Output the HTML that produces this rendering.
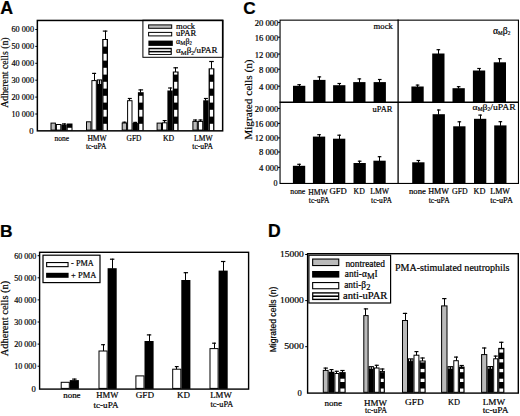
<!DOCTYPE html><html><head><meta charset="utf-8"><style>html,body{margin:0;padding:0;background:#fff;width:520px;height:416px;overflow:hidden}svg{display:block}text{fill:#000;stroke:#000;stroke-width:0.2px}text.lt{stroke-width:0.15px}</style></head><body>
<svg width="520" height="416" viewBox="0 0 520 416">
<rect x="0" y="0" width="520" height="416" fill="#fff"/>
<text x="0.3" y="14.4" font-size="17.8" font-family="'Liberation Sans', sans-serif" font-weight="bold">A</text>
<text x="243.2" y="13.9" font-size="17.2" font-family="'Liberation Sans', sans-serif" font-weight="bold">C</text>
<text x="-0.1" y="236.8" font-size="17.4" font-family="'Liberation Sans', sans-serif" font-weight="bold">B</text>
<text x="268" y="236.8" font-size="17.6" font-family="'Liberation Sans', sans-serif" font-weight="bold">D</text>
<text x="34" y="32.1" font-size="8.6" font-family="'Liberation Serif', serif" text-anchor="end" textLength="22.5" lengthAdjust="spacingAndGlyphs">60 000</text>
<line x1="35.3" y1="29.5" x2="37.5" y2="29.5" stroke="#000" stroke-width="1"/>
<text x="34" y="49" font-size="8.6" font-family="'Liberation Serif', serif" text-anchor="end" textLength="22.5" lengthAdjust="spacingAndGlyphs">50 000</text>
<line x1="35.3" y1="46.4" x2="37.5" y2="46.4" stroke="#000" stroke-width="1"/>
<text x="34" y="65.9" font-size="8.6" font-family="'Liberation Serif', serif" text-anchor="end" textLength="22.5" lengthAdjust="spacingAndGlyphs">40 000</text>
<line x1="35.3" y1="63.3" x2="37.5" y2="63.3" stroke="#000" stroke-width="1"/>
<text x="34" y="82.8" font-size="8.6" font-family="'Liberation Serif', serif" text-anchor="end" textLength="22.5" lengthAdjust="spacingAndGlyphs">30 000</text>
<line x1="35.3" y1="80.2" x2="37.5" y2="80.2" stroke="#000" stroke-width="1"/>
<text x="34" y="99.7" font-size="8.6" font-family="'Liberation Serif', serif" text-anchor="end" textLength="22.5" lengthAdjust="spacingAndGlyphs">20 000</text>
<line x1="35.3" y1="97.1" x2="37.5" y2="97.1" stroke="#000" stroke-width="1"/>
<text x="34" y="116.6" font-size="8.6" font-family="'Liberation Serif', serif" text-anchor="end" textLength="22.5" lengthAdjust="spacingAndGlyphs">10 000</text>
<line x1="35.3" y1="114" x2="37.5" y2="114" stroke="#000" stroke-width="1"/>
<text x="33.6" y="133.5" font-size="8.6" font-family="'Liberation Serif', serif" text-anchor="end">0</text>
<text transform="translate(7.9 72.6) rotate(-90)" x="0" y="0" font-size="10" font-family="'Liberation Serif', serif" text-anchor="middle" textLength="70.4" lengthAdjust="spacingAndGlyphs">Adherent cells (n)</text>
<rect x="142.9" y="20.2" width="80" height="37.1" fill="#fff" stroke="#000" stroke-width="1"/>
<rect x="51" y="123.1" width="4.4" height="7" fill="#bababa" stroke="#000" stroke-width="1"/>
<rect x="56.4" y="124.5" width="4.4" height="5.6" fill="#fff" stroke="#000" stroke-width="1"/>
<rect x="61.3" y="124.5" width="5.4" height="6.1" fill="#000"/>
<line x1="64.5" y1="123.4" x2="64.5" y2="125" stroke="#000" stroke-width="1"/>
<line x1="62" y1="123.9" x2="66" y2="123.9" stroke="#000" stroke-width="1.2"/>
<rect x="66.7" y="123.5" width="5.8" height="7.1" fill="#000"/>
<rect x="67.7" y="127.8" width="3.8" height="2.8" fill="#fff"/>
<rect x="86.5" y="121.8" width="4.4" height="8.3" fill="#bababa" stroke="#000" stroke-width="1"/>
<rect x="91.9" y="80.6" width="4.4" height="49.5" fill="#fff" stroke="#000" stroke-width="1"/>
<line x1="94.5" y1="72.9" x2="94.5" y2="80.6" stroke="#000" stroke-width="1"/>
<line x1="92.1" y1="73.4" x2="96.1" y2="73.4" stroke="#000" stroke-width="1.2"/>
<rect x="96.8" y="79.4" width="5.4" height="51.2" fill="#000"/>
<rect x="97.9" y="80.4" width="0.9" height="3.6" fill="#fff"/>
<rect x="100.2" y="80.4" width="0.9" height="3.6" fill="#fff"/>
<rect x="102.2" y="39" width="5.8" height="91.6" fill="#000"/>
<rect x="103.5" y="123.8" width="3.2" height="6.8" fill="#fff"/>
<rect x="103.5" y="109.8" width="3.2" height="6.8" fill="#fff"/>
<rect x="103.5" y="95.8" width="3.2" height="6.8" fill="#fff"/>
<rect x="103.5" y="81.8" width="3.2" height="6.8" fill="#fff"/>
<rect x="103.5" y="67.8" width="3.2" height="6.8" fill="#fff"/>
<rect x="103.5" y="53.8" width="3.2" height="6.8" fill="#fff"/>
<rect x="103.5" y="40" width="3.2" height="6.6" fill="#fff"/>
<line x1="105.5" y1="30.6" x2="105.5" y2="39.5" stroke="#000" stroke-width="1"/>
<line x1="102.8" y1="31.1" x2="107.4" y2="31.1" stroke="#000" stroke-width="1.2"/>
<rect x="122.2" y="123" width="4.4" height="7.1" fill="#bababa" stroke="#000" stroke-width="1"/>
<line x1="124.5" y1="121.7" x2="124.5" y2="123" stroke="#000" stroke-width="1"/>
<line x1="122.4" y1="122.2" x2="126.4" y2="122.2" stroke="#000" stroke-width="1.2"/>
<rect x="127.6" y="100.7" width="4.4" height="29.4" fill="#fff" stroke="#000" stroke-width="1"/>
<line x1="129.5" y1="98" x2="129.5" y2="100.7" stroke="#000" stroke-width="1"/>
<line x1="127.8" y1="98.5" x2="131.8" y2="98.5" stroke="#000" stroke-width="1.2"/>
<rect x="132.5" y="123" width="5.4" height="7.6" fill="#000"/>
<line x1="135.5" y1="121.9" x2="135.5" y2="123.5" stroke="#000" stroke-width="1"/>
<line x1="133.2" y1="122.4" x2="137.2" y2="122.4" stroke="#000" stroke-width="1.2"/>
<rect x="137.9" y="92.2" width="5.8" height="38.4" fill="#000"/>
<rect x="139.2" y="123.8" width="3.2" height="6.8" fill="#fff"/>
<rect x="139.2" y="109.8" width="3.2" height="6.8" fill="#fff"/>
<rect x="139.2" y="95.8" width="3.2" height="6.8" fill="#fff"/>
<line x1="140.5" y1="89.4" x2="140.5" y2="92.7" stroke="#000" stroke-width="1"/>
<line x1="138.5" y1="89.9" x2="143.1" y2="89.9" stroke="#000" stroke-width="1.2"/>
<rect x="157.1" y="123.1" width="4.4" height="7" fill="#bababa" stroke="#000" stroke-width="1"/>
<rect x="162.5" y="122.8" width="4.4" height="7.3" fill="#fff" stroke="#000" stroke-width="1"/>
<line x1="164.5" y1="120.1" x2="164.5" y2="122.8" stroke="#000" stroke-width="1"/>
<line x1="162.7" y1="120.6" x2="166.7" y2="120.6" stroke="#000" stroke-width="1.2"/>
<rect x="167.4" y="90.5" width="5.4" height="40.1" fill="#000"/>
<line x1="170.5" y1="87.5" x2="170.5" y2="91" stroke="#000" stroke-width="1"/>
<line x1="168.1" y1="88" x2="172.1" y2="88" stroke="#000" stroke-width="1.2"/>
<rect x="172.8" y="71.5" width="5.8" height="59.1" fill="#000"/>
<rect x="174.1" y="123.8" width="3.2" height="6.8" fill="#fff"/>
<rect x="174.1" y="109.8" width="3.2" height="6.8" fill="#fff"/>
<rect x="174.1" y="95.8" width="3.2" height="6.8" fill="#fff"/>
<rect x="174.1" y="81.8" width="3.2" height="6.8" fill="#fff"/>
<rect x="174.1" y="72.5" width="3.2" height="2.1" fill="#fff"/>
<line x1="175.5" y1="67.3" x2="175.5" y2="72" stroke="#000" stroke-width="1"/>
<line x1="173.4" y1="67.8" x2="178" y2="67.8" stroke="#000" stroke-width="1.2"/>
<rect x="192.9" y="121.4" width="4.4" height="8.7" fill="#bababa" stroke="#000" stroke-width="1"/>
<line x1="195.5" y1="119.5" x2="195.5" y2="121.4" stroke="#000" stroke-width="1"/>
<line x1="193.1" y1="120" x2="197.1" y2="120" stroke="#000" stroke-width="1.2"/>
<rect x="198.3" y="121.4" width="4.4" height="8.7" fill="#fff" stroke="#000" stroke-width="1"/>
<line x1="200.5" y1="119.5" x2="200.5" y2="121.4" stroke="#000" stroke-width="1"/>
<line x1="198.5" y1="120" x2="202.5" y2="120" stroke="#000" stroke-width="1.2"/>
<rect x="203.2" y="100.3" width="5.4" height="30.3" fill="#000"/>
<line x1="205.5" y1="98" x2="205.5" y2="100.8" stroke="#000" stroke-width="1"/>
<line x1="203.9" y1="98.5" x2="207.9" y2="98.5" stroke="#000" stroke-width="1.2"/>
<rect x="208.6" y="68.3" width="5.8" height="62.3" fill="#000"/>
<rect x="209.9" y="123.8" width="3.2" height="6.8" fill="#fff"/>
<rect x="209.9" y="109.8" width="3.2" height="6.8" fill="#fff"/>
<rect x="209.9" y="95.8" width="3.2" height="6.8" fill="#fff"/>
<rect x="209.9" y="81.8" width="3.2" height="6.8" fill="#fff"/>
<rect x="209.9" y="69.3" width="3.2" height="5.3" fill="#fff"/>
<line x1="211.5" y1="61" x2="211.5" y2="68.8" stroke="#000" stroke-width="1"/>
<line x1="209.2" y1="61.5" x2="213.8" y2="61.5" stroke="#000" stroke-width="1.2"/>
<rect x="37.35" y="20.45" width="185.3" height="110.4" fill="none" stroke="#000" stroke-width="1.5"/>
<rect x="148.6" y="24.9" width="23.1" height="3.4" fill="#bababa" stroke="#000" stroke-width="1"/>
<rect x="148.6" y="32.4" width="23.1" height="3.5" fill="#fff" stroke="#000" stroke-width="1"/>
<rect x="148.4" y="40.6" width="24.4" height="5.3" fill="#000"/>
<rect x="148.4" y="47.8" width="23.4" height="7.1" fill="#000"/>
<rect x="149.5" y="49.3" width="21.2" height="1.6" fill="#fff"/>
<rect x="149.5" y="52.4" width="21.2" height="1.6" fill="#fff"/>
<text x="176" y="28.7" font-size="8.6" font-family="'Liberation Serif', serif" textLength="19" lengthAdjust="spacingAndGlyphs">mock</text>
<text x="176" y="35.9" font-size="8.6" font-family="'Liberation Serif', serif" textLength="20.2" lengthAdjust="spacingAndGlyphs">uPAR</text>
<text x="176.1" y="44.0" font-size="9.0" font-family="'Liberation Serif', serif" textLength="15.7" lengthAdjust="spacingAndGlyphs">&#945;<tspan font-size="6.6" dy="1.3">M</tspan><tspan dy="-1.3">&#946;</tspan><tspan font-size="5.4" dy="1.3">2</tspan></text>
<text x="176.1" y="53.4" font-size="9.0" font-family="'Liberation Serif', serif" textLength="41.5" lengthAdjust="spacingAndGlyphs">&#945;<tspan font-size="6.6" dy="1.3">M</tspan><tspan dy="-1.3">&#946;</tspan><tspan font-size="5.4" dy="1.3">2</tspan><tspan dy="-1.3">/uPAR</tspan></text>
<text x="61.9" y="140.6" font-size="7.8" font-family="'Liberation Serif', serif" text-anchor="middle" textLength="14.6" lengthAdjust="spacingAndGlyphs">none</text>
<text x="97.1" y="140.6" font-size="7.8" font-family="'Liberation Serif', serif" text-anchor="middle" textLength="19.4" lengthAdjust="spacingAndGlyphs">HMW</text>
<text x="96.2" y="148.5" font-size="7.8" font-family="'Liberation Serif', serif" text-anchor="middle" textLength="20.6" lengthAdjust="spacingAndGlyphs">tc-uPA</text>
<text x="134" y="140.6" font-size="7.8" font-family="'Liberation Serif', serif" text-anchor="middle" textLength="14.8" lengthAdjust="spacingAndGlyphs">GFD</text>
<text x="168.5" y="140.6" font-size="7.8" font-family="'Liberation Serif', serif" text-anchor="middle" textLength="11.2" lengthAdjust="spacingAndGlyphs">KD</text>
<text x="203.3" y="140.6" font-size="7.8" font-family="'Liberation Serif', serif" text-anchor="middle" textLength="18.5" lengthAdjust="spacingAndGlyphs">LMW</text>
<text x="202.7" y="148.5" font-size="7.8" font-family="'Liberation Serif', serif" text-anchor="middle" textLength="20.8" lengthAdjust="spacingAndGlyphs">tc-uPA</text>
<text x="278.4" y="25.85" font-size="8" font-family="'Liberation Serif', serif" text-anchor="end" textLength="23.6" lengthAdjust="spacingAndGlyphs">20 000</text>
<line x1="278" y1="22.4" x2="280" y2="22.4" stroke="#000" stroke-width="1"/>
<text x="278.4" y="40.65" font-size="8" font-family="'Liberation Serif', serif" text-anchor="end" textLength="23.6" lengthAdjust="spacingAndGlyphs">16 000</text>
<line x1="278" y1="37.2" x2="280" y2="37.2" stroke="#000" stroke-width="1"/>
<text x="278.4" y="57.5" font-size="8" font-family="'Liberation Serif', serif" text-anchor="end" textLength="23.6" lengthAdjust="spacingAndGlyphs">12 000</text>
<line x1="278" y1="54.05" x2="280" y2="54.05" stroke="#000" stroke-width="1"/>
<text x="278.4" y="72.65" font-size="8" font-family="'Liberation Serif', serif" text-anchor="end" textLength="19.4" lengthAdjust="spacingAndGlyphs">8 000</text>
<line x1="278" y1="69.2" x2="280" y2="69.2" stroke="#000" stroke-width="1"/>
<text x="278.4" y="89.65" font-size="8" font-family="'Liberation Serif', serif" text-anchor="end" textLength="19.4" lengthAdjust="spacingAndGlyphs">4 000</text>
<line x1="278" y1="86.2" x2="280" y2="86.2" stroke="#000" stroke-width="1"/>
<text x="278.4" y="111.85" font-size="8" font-family="'Liberation Serif', serif" text-anchor="end" textLength="23.6" lengthAdjust="spacingAndGlyphs">20 000</text>
<line x1="278" y1="108.4" x2="280" y2="108.4" stroke="#000" stroke-width="1"/>
<text x="278.4" y="126.85" font-size="8" font-family="'Liberation Serif', serif" text-anchor="end" textLength="23.6" lengthAdjust="spacingAndGlyphs">16 000</text>
<line x1="278" y1="123.4" x2="280" y2="123.4" stroke="#000" stroke-width="1"/>
<text x="278.4" y="141.35" font-size="8" font-family="'Liberation Serif', serif" text-anchor="end" textLength="23.6" lengthAdjust="spacingAndGlyphs">12 000</text>
<line x1="278" y1="137.9" x2="280" y2="137.9" stroke="#000" stroke-width="1"/>
<text x="278.4" y="155.45" font-size="8" font-family="'Liberation Serif', serif" text-anchor="end" textLength="19.4" lengthAdjust="spacingAndGlyphs">8 000</text>
<line x1="278" y1="152" x2="280" y2="152" stroke="#000" stroke-width="1"/>
<text x="278.4" y="170.85" font-size="8" font-family="'Liberation Serif', serif" text-anchor="end" textLength="19.4" lengthAdjust="spacingAndGlyphs">4 000</text>
<line x1="278" y1="167.4" x2="280" y2="167.4" stroke="#000" stroke-width="1"/>
<text x="277.6" y="186.05" font-size="8" font-family="'Liberation Serif', serif" text-anchor="end">0</text>
<text transform="translate(251.6 99.6) rotate(-90)" x="0" y="0" font-size="11" font-family="'Liberation Serif', serif" text-anchor="middle" textLength="80.4" lengthAdjust="spacingAndGlyphs">Migrated cells (n)</text>
<rect x="293" y="85.8" width="12.3" height="16.5" fill="#000"/>
<line x1="299.5" y1="84.2" x2="299.5" y2="86.3" stroke="#000" stroke-width="1"/>
<line x1="297.35" y1="84.7" x2="300.95" y2="84.7" stroke="#000" stroke-width="1.2"/>
<rect x="313.2" y="79.9" width="12.3" height="22.4" fill="#000"/>
<line x1="319.5" y1="76.4" x2="319.5" y2="80.4" stroke="#000" stroke-width="1"/>
<line x1="317.55" y1="76.9" x2="321.15" y2="76.9" stroke="#000" stroke-width="1.2"/>
<rect x="333.1" y="85.2" width="12.3" height="17.1" fill="#000"/>
<line x1="339.5" y1="83" x2="339.5" y2="85.7" stroke="#000" stroke-width="1"/>
<line x1="337.45" y1="83.5" x2="341.05" y2="83.5" stroke="#000" stroke-width="1.2"/>
<rect x="353.2" y="82.1" width="12.3" height="20.2" fill="#000"/>
<line x1="359.5" y1="78.4" x2="359.5" y2="82.6" stroke="#000" stroke-width="1"/>
<line x1="357.55" y1="78.9" x2="361.15" y2="78.9" stroke="#000" stroke-width="1.2"/>
<rect x="373.6" y="82.1" width="12.3" height="20.2" fill="#000"/>
<line x1="379.5" y1="79" x2="379.5" y2="82.6" stroke="#000" stroke-width="1"/>
<line x1="377.95" y1="79.5" x2="381.55" y2="79.5" stroke="#000" stroke-width="1.2"/>
<rect x="411.4" y="86.5" width="12.3" height="15.8" fill="#000"/>
<line x1="417.5" y1="84.6" x2="417.5" y2="87" stroke="#000" stroke-width="1"/>
<line x1="415.75" y1="85.1" x2="419.35" y2="85.1" stroke="#000" stroke-width="1.2"/>
<rect x="432.2" y="53.5" width="12.3" height="48.8" fill="#000"/>
<line x1="438.5" y1="49.2" x2="438.5" y2="54" stroke="#000" stroke-width="1"/>
<line x1="436.55" y1="49.7" x2="440.15" y2="49.7" stroke="#000" stroke-width="1.2"/>
<rect x="452.5" y="88.2" width="12.3" height="14.1" fill="#000"/>
<line x1="458.5" y1="86.2" x2="458.5" y2="88.7" stroke="#000" stroke-width="1"/>
<line x1="456.85" y1="86.7" x2="460.45" y2="86.7" stroke="#000" stroke-width="1.2"/>
<rect x="472.9" y="70.5" width="12.3" height="31.8" fill="#000"/>
<line x1="479.5" y1="68" x2="479.5" y2="71" stroke="#000" stroke-width="1"/>
<line x1="477.25" y1="68.5" x2="480.85" y2="68.5" stroke="#000" stroke-width="1.2"/>
<rect x="493.7" y="62.3" width="12.3" height="40" fill="#000"/>
<line x1="499.5" y1="58.2" x2="499.5" y2="62.8" stroke="#000" stroke-width="1"/>
<line x1="498.05" y1="58.7" x2="501.65" y2="58.7" stroke="#000" stroke-width="1.2"/>
<rect x="292.9" y="165.8" width="12.3" height="17.4" fill="#000"/>
<line x1="299.5" y1="163.8" x2="299.5" y2="166.3" stroke="#000" stroke-width="1"/>
<line x1="297.25" y1="164.3" x2="300.85" y2="164.3" stroke="#000" stroke-width="1.2"/>
<rect x="312.9" y="136.6" width="12.3" height="46.6" fill="#000"/>
<line x1="319.5" y1="134.2" x2="319.5" y2="137.1" stroke="#000" stroke-width="1"/>
<line x1="317.25" y1="134.7" x2="320.85" y2="134.7" stroke="#000" stroke-width="1.2"/>
<rect x="333" y="138.7" width="12.3" height="44.5" fill="#000"/>
<line x1="339.5" y1="134.7" x2="339.5" y2="139.2" stroke="#000" stroke-width="1"/>
<line x1="337.35" y1="135.2" x2="340.95" y2="135.2" stroke="#000" stroke-width="1.2"/>
<rect x="353.5" y="163" width="12.3" height="20.2" fill="#000"/>
<line x1="359.5" y1="160.7" x2="359.5" y2="163.5" stroke="#000" stroke-width="1"/>
<line x1="357.85" y1="161.2" x2="361.45" y2="161.2" stroke="#000" stroke-width="1.2"/>
<rect x="373.4" y="160.7" width="12.3" height="22.5" fill="#000"/>
<line x1="379.5" y1="156.2" x2="379.5" y2="161.2" stroke="#000" stroke-width="1"/>
<line x1="377.75" y1="156.7" x2="381.35" y2="156.7" stroke="#000" stroke-width="1.2"/>
<rect x="412.2" y="162.3" width="12.3" height="20.9" fill="#000"/>
<line x1="418.5" y1="160" x2="418.5" y2="162.8" stroke="#000" stroke-width="1"/>
<line x1="416.55" y1="160.5" x2="420.15" y2="160.5" stroke="#000" stroke-width="1.2"/>
<rect x="432.6" y="114.2" width="12.3" height="69" fill="#000"/>
<line x1="438.5" y1="109.5" x2="438.5" y2="114.7" stroke="#000" stroke-width="1"/>
<line x1="436.95" y1="110" x2="440.55" y2="110" stroke="#000" stroke-width="1.2"/>
<rect x="453.2" y="126.3" width="12.3" height="56.9" fill="#000"/>
<line x1="459.5" y1="121.3" x2="459.5" y2="126.8" stroke="#000" stroke-width="1"/>
<line x1="457.55" y1="121.8" x2="461.15" y2="121.8" stroke="#000" stroke-width="1.2"/>
<rect x="474" y="118.8" width="12.3" height="64.4" fill="#000"/>
<line x1="480.5" y1="114.6" x2="480.5" y2="119.3" stroke="#000" stroke-width="1"/>
<line x1="478.35" y1="115.1" x2="481.95" y2="115.1" stroke="#000" stroke-width="1.2"/>
<rect x="494.2" y="125.4" width="12.3" height="57.8" fill="#000"/>
<line x1="500.5" y1="121.2" x2="500.5" y2="125.9" stroke="#000" stroke-width="1"/>
<line x1="498.55" y1="121.7" x2="502.15" y2="121.7" stroke="#000" stroke-width="1.2"/>
<rect x="280.05" y="20.15" width="238.4" height="163.3" fill="none" stroke="#000" stroke-width="1.1"/>
<line x1="398.1" y1="19.6" x2="398.1" y2="184" stroke="#000" stroke-width="1.3"/>
<line x1="279.5" y1="102.3" x2="519" y2="102.3" stroke="#000" stroke-width="1.4"/>
<text x="392.8" y="28.9" font-size="8.8" font-family="'Liberation Serif', serif" text-anchor="end" textLength="19.2" lengthAdjust="spacingAndGlyphs">mock</text>
<text x="493" y="33.6" font-size="9.6" font-family="'Liberation Serif', serif" textLength="17.3" lengthAdjust="spacingAndGlyphs">&#945;<tspan font-size="5.2" dy="1.2">M</tspan><tspan dy="-1.2">&#946;</tspan><tspan font-size="5.2" dy="1.2">2</tspan></text>
<text x="392.4" y="111.9" font-size="8.4" font-family="'Liberation Serif', serif" text-anchor="end" textLength="19.9" lengthAdjust="spacingAndGlyphs">uPAR</text>
<text x="472.6" y="109.6" font-size="9.2" font-family="'Liberation Serif', serif" textLength="43.1" lengthAdjust="spacingAndGlyphs">&#945;<tspan font-size="5.2" dy="1.2">M</tspan><tspan dy="-1.2">&#946;</tspan><tspan font-size="5.2" dy="1.2">2</tspan><tspan dy="-1.2">/uPAR</tspan></text>
<text x="297.8" y="193.6" font-size="8" font-family="'Liberation Serif', serif" text-anchor="middle" textLength="15" lengthAdjust="spacingAndGlyphs">none</text>
<text x="318" y="194.5" font-size="8" font-family="'Liberation Serif', serif" text-anchor="middle" textLength="19.6" lengthAdjust="spacingAndGlyphs">HMW</text>
<text x="338.2" y="194.4" font-size="8" font-family="'Liberation Serif', serif" text-anchor="middle" textLength="17.3" lengthAdjust="spacingAndGlyphs">GFD</text>
<text x="359.2" y="194.4" font-size="8" font-family="'Liberation Serif', serif" text-anchor="middle" textLength="11.2" lengthAdjust="spacingAndGlyphs">KD</text>
<text x="379.6" y="194.4" font-size="8" font-family="'Liberation Serif', serif" text-anchor="middle" textLength="18.8" lengthAdjust="spacingAndGlyphs">LMW</text>
<text x="319.2" y="203.2" font-size="8" font-family="'Liberation Serif', serif" text-anchor="middle" textLength="20.8" lengthAdjust="spacingAndGlyphs">tc-uPA</text>
<text x="381.5" y="203.2" font-size="8" font-family="'Liberation Serif', serif" text-anchor="middle" textLength="20.8" lengthAdjust="spacingAndGlyphs">tc-uPA</text>
<text x="417.4" y="194" font-size="8" font-family="'Liberation Serif', serif" text-anchor="middle" textLength="16.8" lengthAdjust="spacingAndGlyphs">none</text>
<text x="438.6" y="194" font-size="8" font-family="'Liberation Serif', serif" text-anchor="middle" textLength="20.8" lengthAdjust="spacingAndGlyphs">HMW</text>
<text x="459.8" y="194" font-size="8" font-family="'Liberation Serif', serif" text-anchor="middle" textLength="15.6" lengthAdjust="spacingAndGlyphs">GFD</text>
<text x="479.5" y="194" font-size="8" font-family="'Liberation Serif', serif" text-anchor="middle" textLength="11.9" lengthAdjust="spacingAndGlyphs">KD</text>
<text x="500.1" y="194" font-size="8" font-family="'Liberation Serif', serif" text-anchor="middle" textLength="19.7" lengthAdjust="spacingAndGlyphs">LMW</text>
<text x="439.2" y="203" font-size="8" font-family="'Liberation Serif', serif" text-anchor="middle" textLength="21" lengthAdjust="spacingAndGlyphs">tc-uPA</text>
<text x="501.6" y="203" font-size="8" font-family="'Liberation Serif', serif" text-anchor="middle" textLength="22.7" lengthAdjust="spacingAndGlyphs">tc-uPA</text>
<text x="36.4" y="258.9" font-size="8.6" font-family="'Liberation Serif', serif" text-anchor="end" textLength="22.2" lengthAdjust="spacingAndGlyphs">60 000</text>
<line x1="37.6" y1="255.7" x2="39.8" y2="255.7" stroke="#000" stroke-width="1"/>
<text x="36.4" y="281" font-size="8.6" font-family="'Liberation Serif', serif" text-anchor="end" textLength="22.2" lengthAdjust="spacingAndGlyphs">50 000</text>
<line x1="37.6" y1="277.8" x2="39.8" y2="277.8" stroke="#000" stroke-width="1"/>
<text x="36.4" y="303.1" font-size="8.6" font-family="'Liberation Serif', serif" text-anchor="end" textLength="22.2" lengthAdjust="spacingAndGlyphs">40 000</text>
<line x1="37.6" y1="299.9" x2="39.8" y2="299.9" stroke="#000" stroke-width="1"/>
<text x="36.4" y="325.2" font-size="8.6" font-family="'Liberation Serif', serif" text-anchor="end" textLength="22.2" lengthAdjust="spacingAndGlyphs">30 000</text>
<line x1="37.6" y1="322" x2="39.8" y2="322" stroke="#000" stroke-width="1"/>
<text x="36.4" y="347.3" font-size="8.6" font-family="'Liberation Serif', serif" text-anchor="end" textLength="22.2" lengthAdjust="spacingAndGlyphs">20 000</text>
<line x1="37.6" y1="344.1" x2="39.8" y2="344.1" stroke="#000" stroke-width="1"/>
<text x="36.4" y="369.4" font-size="8.6" font-family="'Liberation Serif', serif" text-anchor="end" textLength="22.2" lengthAdjust="spacingAndGlyphs">10 000</text>
<line x1="37.6" y1="366.2" x2="39.8" y2="366.2" stroke="#000" stroke-width="1"/>
<text x="35.8" y="391.7" font-size="8.6" font-family="'Liberation Serif', serif" text-anchor="end">0</text>
<text transform="translate(7.9 318.5) rotate(-90)" x="0" y="0" font-size="10.6" font-family="'Liberation Serif', serif" text-anchor="middle" textLength="75.6" lengthAdjust="spacingAndGlyphs">Adherent cells (n)</text>
<rect x="61.2" y="382.3" width="8.1" height="6.1" fill="#fff" stroke="#000" stroke-width="1"/>
<rect x="69.8" y="380.1" width="9.1" height="8.8" fill="#000"/>
<line x1="74.5" y1="378.6" x2="74.5" y2="380.6" stroke="#000" stroke-width="1"/>
<line x1="72.15" y1="379.1" x2="76.55" y2="379.1" stroke="#000" stroke-width="1.2"/>
<rect x="99" y="351" width="8.1" height="37.4" fill="#fff" stroke="#000" stroke-width="1"/>
<line x1="103.5" y1="344.2" x2="103.5" y2="351" stroke="#000" stroke-width="1"/>
<line x1="101.15" y1="344.7" x2="104.95" y2="344.7" stroke="#000" stroke-width="1.2"/>
<rect x="107.6" y="268.2" width="9.1" height="120.7" fill="#000"/>
<line x1="112.5" y1="258.7" x2="112.5" y2="268.7" stroke="#000" stroke-width="1"/>
<line x1="109.95" y1="259.2" x2="114.35" y2="259.2" stroke="#000" stroke-width="1.2"/>
<rect x="135.9" y="375.9" width="8.1" height="12.5" fill="#fff" stroke="#000" stroke-width="1"/>
<rect x="144.5" y="341" width="9.1" height="47.9" fill="#000"/>
<line x1="149.5" y1="334.4" x2="149.5" y2="341.5" stroke="#000" stroke-width="1"/>
<line x1="146.85" y1="334.9" x2="151.25" y2="334.9" stroke="#000" stroke-width="1.2"/>
<rect x="172.7" y="369.2" width="8.1" height="19.2" fill="#fff" stroke="#000" stroke-width="1"/>
<line x1="176.5" y1="366.1" x2="176.5" y2="369.2" stroke="#000" stroke-width="1"/>
<line x1="174.85" y1="366.6" x2="178.65" y2="366.6" stroke="#000" stroke-width="1.2"/>
<rect x="181.3" y="280" width="9.1" height="108.9" fill="#000"/>
<line x1="185.5" y1="272.2" x2="185.5" y2="280.5" stroke="#000" stroke-width="1"/>
<line x1="183.65" y1="272.7" x2="188.05" y2="272.7" stroke="#000" stroke-width="1.2"/>
<rect x="210" y="348.6" width="8.1" height="39.8" fill="#fff" stroke="#000" stroke-width="1"/>
<line x1="214.5" y1="342.7" x2="214.5" y2="348.6" stroke="#000" stroke-width="1"/>
<line x1="212.15" y1="343.2" x2="215.95" y2="343.2" stroke="#000" stroke-width="1.2"/>
<rect x="218.6" y="270.6" width="9.1" height="118.3" fill="#000"/>
<line x1="223.5" y1="261" x2="223.5" y2="271.1" stroke="#000" stroke-width="1"/>
<line x1="220.95" y1="261.5" x2="225.35" y2="261.5" stroke="#000" stroke-width="1.2"/>
<rect x="39.6" y="252.3" width="209" height="136.8" fill="none" stroke="#000" stroke-width="1.4"/>
<rect x="43" y="255.2" width="57" height="27.4" fill="#fff" stroke="#000" stroke-width="1.2"/>
<rect x="46.65" y="262.55" width="21.4" height="4.1" fill="#fff" stroke="#000" stroke-width="1.1"/>
<rect x="46.1" y="272.8" width="22.5" height="5" fill="#000"/>
<text x="71.1" y="266.1" font-size="8.6" font-family="'Liberation Serif', serif" textLength="22.7" lengthAdjust="spacingAndGlyphs">- PMA</text>
<text x="71.1" y="277.6" font-size="8.6" font-family="'Liberation Serif', serif" textLength="25.2" lengthAdjust="spacingAndGlyphs">+ PMA</text>
<text x="71.9" y="397.9" font-size="8.8" font-family="'Liberation Serif', serif" text-anchor="middle" textLength="17.3" lengthAdjust="spacingAndGlyphs">none</text>
<text x="107.4" y="397.9" font-size="8.8" font-family="'Liberation Serif', serif" text-anchor="middle" textLength="22.1" lengthAdjust="spacingAndGlyphs">HMW</text>
<text x="106" y="407.5" font-size="8.8" font-family="'Liberation Serif', serif" text-anchor="middle" textLength="25" lengthAdjust="spacingAndGlyphs">tc-uPA</text>
<text x="144.9" y="398" font-size="8.8" font-family="'Liberation Serif', serif" text-anchor="middle" textLength="18.3" lengthAdjust="spacingAndGlyphs">GFD</text>
<text x="183.5" y="398.3" font-size="8.8" font-family="'Liberation Serif', serif" text-anchor="middle" textLength="13" lengthAdjust="spacingAndGlyphs">KD</text>
<text x="221" y="398" font-size="8.8" font-family="'Liberation Serif', serif" text-anchor="middle" textLength="21.6" lengthAdjust="spacingAndGlyphs">LMW</text>
<text x="221.9" y="407.3" font-size="8.8" font-family="'Liberation Serif', serif" text-anchor="middle" textLength="22.7" lengthAdjust="spacingAndGlyphs">tc-uPA</text>
<text x="303.8" y="257.1" font-size="8.8" font-family="'Liberation Serif', serif" text-anchor="end" textLength="23.8" lengthAdjust="spacingAndGlyphs">15000</text>
<line x1="305.2" y1="254.5" x2="307.4" y2="254.5" stroke="#000" stroke-width="1"/>
<text x="303.8" y="303.2" font-size="8.8" font-family="'Liberation Serif', serif" text-anchor="end" textLength="23.8" lengthAdjust="spacingAndGlyphs">10000</text>
<line x1="305.2" y1="300.6" x2="307.4" y2="300.6" stroke="#000" stroke-width="1"/>
<text x="303.8" y="349.3" font-size="8.8" font-family="'Liberation Serif', serif" text-anchor="end" textLength="19.6" lengthAdjust="spacingAndGlyphs">5000</text>
<line x1="305.2" y1="346.7" x2="307.4" y2="346.7" stroke="#000" stroke-width="1"/>
<text x="301.9" y="396" font-size="8.6" font-family="'Liberation Serif', serif" text-anchor="end">0</text>
<text transform="translate(276.4 319.5) rotate(-90)" x="0" y="0" font-size="8.6" font-family="'Liberation Sans', sans-serif" text-anchor="middle" textLength="65.6" lengthAdjust="spacingAndGlyphs">Migrated cells (n)</text>
<rect x="323.3" y="370.4" width="4.8" height="21.9" fill="#bababa" stroke="#000" stroke-width="1"/>
<line x1="325.5" y1="367.6" x2="325.5" y2="370.4" stroke="#000" stroke-width="1"/>
<line x1="323.55" y1="368.1" x2="327.85" y2="368.1" stroke="#000" stroke-width="1.2"/>
<rect x="328.6" y="371.7" width="5.8" height="21.1" fill="#000"/>
<line x1="331.5" y1="369.1" x2="331.5" y2="372.2" stroke="#000" stroke-width="1"/>
<line x1="329.5" y1="369.6" x2="333.5" y2="369.6" stroke="#000" stroke-width="1.2"/>
<rect x="334.9" y="373.5" width="3.8" height="18.8" fill="#fff" stroke="#000" stroke-width="1"/>
<line x1="336.5" y1="370.8" x2="336.5" y2="373.5" stroke="#000" stroke-width="1"/>
<line x1="334.8" y1="371.3" x2="338.8" y2="371.3" stroke="#000" stroke-width="1.2"/>
<rect x="339.2" y="372.1" width="6.5" height="20.7" fill="#000"/>
<rect x="340.4" y="388.5" width="4.1" height="3.3" fill="#fff"/>
<rect x="340.4" y="378.7" width="4.1" height="3.3" fill="#fff"/>
<line x1="342.5" y1="370" x2="342.5" y2="372.6" stroke="#000" stroke-width="1"/>
<line x1="340.3" y1="370.5" x2="344.6" y2="370.5" stroke="#000" stroke-width="1.2"/>
<rect x="363.8" y="315.6" width="4.3" height="76.7" fill="#bababa" stroke="#000" stroke-width="1"/>
<line x1="365.5" y1="308.4" x2="365.5" y2="315.6" stroke="#000" stroke-width="1"/>
<line x1="363.8" y1="308.9" x2="368.1" y2="308.9" stroke="#000" stroke-width="1.2"/>
<rect x="368.6" y="366.1" width="5.3" height="26.7" fill="#000"/>
<rect x="369.7" y="367.1" width="0.9" height="1.8" fill="#fff"/>
<rect x="371.9" y="367.1" width="0.9" height="1.8" fill="#fff"/>
<rect x="374.4" y="368" width="4.7" height="24.3" fill="#fff" stroke="#000" stroke-width="1"/>
<line x1="376.5" y1="364.8" x2="376.5" y2="368" stroke="#000" stroke-width="1"/>
<line x1="374.75" y1="365.3" x2="378.75" y2="365.3" stroke="#000" stroke-width="1.2"/>
<rect x="379.6" y="370.9" width="5.3" height="21.9" fill="#000"/>
<rect x="380.8" y="388.5" width="2.9" height="3.3" fill="#fff"/>
<rect x="380.8" y="378.7" width="2.9" height="3.3" fill="#fff"/>
<rect x="380.8" y="371.9" width="2.9" height="0.3" fill="#fff"/>
<line x1="382.5" y1="368.5" x2="382.5" y2="371.4" stroke="#000" stroke-width="1"/>
<line x1="380.1" y1="369" x2="384.4" y2="369" stroke="#000" stroke-width="1.2"/>
<rect x="402.5" y="320.5" width="5" height="71.8" fill="#bababa" stroke="#000" stroke-width="1"/>
<line x1="405.5" y1="312.9" x2="405.5" y2="320.5" stroke="#000" stroke-width="1"/>
<line x1="402.85" y1="313.4" x2="407.15" y2="313.4" stroke="#000" stroke-width="1.2"/>
<rect x="408" y="358.3" width="5.5" height="34.5" fill="#000"/>
<rect x="409.1" y="359.3" width="0.9" height="1.8" fill="#fff"/>
<rect x="411.5" y="359.3" width="0.9" height="1.8" fill="#fff"/>
<rect x="414" y="355.2" width="4.9" height="37.1" fill="#fff" stroke="#000" stroke-width="1"/>
<line x1="416.5" y1="351.1" x2="416.5" y2="355.2" stroke="#000" stroke-width="1"/>
<line x1="414.45" y1="351.6" x2="418.45" y2="351.6" stroke="#000" stroke-width="1.2"/>
<rect x="419.4" y="360.5" width="6.3" height="32.3" fill="#000"/>
<rect x="420.6" y="388.5" width="3.9" height="3.3" fill="#fff"/>
<rect x="420.6" y="378.7" width="3.9" height="3.3" fill="#fff"/>
<rect x="420.6" y="368.9" width="3.9" height="3.3" fill="#fff"/>
<rect x="420.6" y="361.5" width="3.9" height="0.9" fill="#fff"/>
<line x1="422.5" y1="357.5" x2="422.5" y2="361" stroke="#000" stroke-width="1"/>
<line x1="420.4" y1="358" x2="424.7" y2="358" stroke="#000" stroke-width="1.2"/>
<rect x="441.6" y="305.9" width="5.4" height="86.4" fill="#bababa" stroke="#000" stroke-width="1"/>
<line x1="444.5" y1="298.1" x2="444.5" y2="305.9" stroke="#000" stroke-width="1"/>
<line x1="442.15" y1="298.6" x2="446.45" y2="298.6" stroke="#000" stroke-width="1.2"/>
<rect x="447.5" y="366.1" width="5.8" height="26.7" fill="#000"/>
<rect x="448.6" y="367.1" width="0.9" height="1.8" fill="#fff"/>
<rect x="451.3" y="367.1" width="0.9" height="1.8" fill="#fff"/>
<rect x="453.8" y="360.7" width="4.5" height="31.6" fill="#fff" stroke="#000" stroke-width="1"/>
<line x1="456.5" y1="356.6" x2="456.5" y2="360.7" stroke="#000" stroke-width="1"/>
<line x1="454.05" y1="357.1" x2="458.05" y2="357.1" stroke="#000" stroke-width="1.2"/>
<rect x="458.8" y="366.6" width="5.8" height="26.2" fill="#000"/>
<rect x="460" y="388.5" width="3.4" height="3.3" fill="#fff"/>
<rect x="460" y="378.7" width="3.4" height="3.3" fill="#fff"/>
<rect x="460" y="368.9" width="3.4" height="3.3" fill="#fff"/>
<line x1="461.5" y1="365" x2="461.5" y2="367.1" stroke="#000" stroke-width="1"/>
<line x1="459.55" y1="365.5" x2="463.85" y2="365.5" stroke="#000" stroke-width="1.2"/>
<rect x="481.6" y="354.6" width="5.2" height="37.7" fill="#bababa" stroke="#000" stroke-width="1"/>
<line x1="484.5" y1="347.5" x2="484.5" y2="354.6" stroke="#000" stroke-width="1"/>
<line x1="482.05" y1="348" x2="486.35" y2="348" stroke="#000" stroke-width="1.2"/>
<rect x="487.3" y="366" width="5.9" height="26.8" fill="#000"/>
<rect x="488.4" y="367" width="0.9" height="1.8" fill="#fff"/>
<rect x="491.2" y="367" width="0.9" height="1.8" fill="#fff"/>
<rect x="493.7" y="358.8" width="4" height="33.5" fill="#fff" stroke="#000" stroke-width="1"/>
<line x1="495.5" y1="355.6" x2="495.5" y2="358.8" stroke="#000" stroke-width="1"/>
<line x1="493.7" y1="356.1" x2="497.7" y2="356.1" stroke="#000" stroke-width="1.2"/>
<rect x="498.2" y="347.9" width="6.2" height="44.9" fill="#000"/>
<rect x="499.4" y="388.5" width="3.8" height="3.3" fill="#fff"/>
<rect x="499.4" y="378.7" width="3.8" height="3.3" fill="#fff"/>
<rect x="499.4" y="368.9" width="3.8" height="3.3" fill="#fff"/>
<rect x="499.4" y="359.1" width="3.8" height="3.3" fill="#fff"/>
<rect x="499.4" y="349.3" width="3.8" height="3.3" fill="#fff"/>
<line x1="501.5" y1="341.8" x2="501.5" y2="348.4" stroke="#000" stroke-width="1"/>
<line x1="499.15" y1="342.3" x2="503.45" y2="342.3" stroke="#000" stroke-width="1.2"/>
<rect x="307.6" y="253.7" width="210.7" height="139.4" fill="none" stroke="#000" stroke-width="1.4"/>
<rect x="308.9" y="255.2" width="81.7" height="47.8" fill="#fff" stroke="#000" stroke-width="1.2"/>
<rect x="312.65" y="259.05" width="26.1" height="6.5" fill="#bababa" stroke="#000" stroke-width="1.1"/>
<rect x="312.1" y="271" width="27.2" height="6.6" fill="#000"/>
<rect x="312.65" y="282.55" width="26.1" height="6.2" fill="#fff" stroke="#000" stroke-width="1.1"/>
<rect x="312.1" y="292.2" width="27.2" height="7.9" fill="#000"/>
<rect x="313.3" y="293.6" width="24.8" height="1.8" fill="#fff"/>
<rect x="313.3" y="297" width="24.8" height="1.7" fill="#fff"/>
<text x="345.4" y="266.6" font-size="9.4" font-family="'Liberation Serif', serif" textLength="39.6" lengthAdjust="spacingAndGlyphs">nontreated</text>
<text x="344.8" y="276.9" font-size="9.4" font-family="'Liberation Serif', serif">anti-&#945;<tspan font-size="8.6" dy="2.2">M</tspan><tspan dy="-2.2">I</tspan></text>
<text x="344.2" y="287.6" font-size="9.4" font-family="'Liberation Serif', serif">anti-&#946;<tspan font-size="8.4" dy="2.4">2</tspan></text>
<text x="343" y="299" font-size="9.4" font-family="'Liberation Serif', serif" textLength="44.4" lengthAdjust="spacingAndGlyphs">anti-uPAR</text>
<text x="395" y="271.3" font-size="10" font-family="'Liberation Serif', serif" textLength="114.5" lengthAdjust="spacingAndGlyphs">PMA-stimulated neutrophils</text>
<text x="333.2" y="405.6" font-size="8.8" font-family="'Liberation Serif', serif" text-anchor="middle" textLength="17.6" lengthAdjust="spacingAndGlyphs">none</text>
<text x="375.5" y="405.6" font-size="8.8" font-family="'Liberation Serif', serif" text-anchor="middle" textLength="23" lengthAdjust="spacingAndGlyphs">HMW</text>
<text x="376" y="413.1" font-size="8.8" font-family="'Liberation Serif', serif" text-anchor="middle" textLength="22" lengthAdjust="spacingAndGlyphs">tc-uPA</text>
<text x="414.3" y="405.2" font-size="8.8" font-family="'Liberation Serif', serif" text-anchor="middle" textLength="18.6" lengthAdjust="spacingAndGlyphs">GFD</text>
<text x="454" y="405.4" font-size="8.8" font-family="'Liberation Serif', serif" text-anchor="middle" textLength="12" lengthAdjust="spacingAndGlyphs">KD</text>
<text x="493.9" y="405.4" font-size="8.8" font-family="'Liberation Serif', serif" text-anchor="middle" textLength="22.4" lengthAdjust="spacingAndGlyphs">LMW</text>
<text x="495.6" y="413.1" font-size="8.8" font-family="'Liberation Serif', serif" text-anchor="middle" textLength="25.8" lengthAdjust="spacingAndGlyphs">tc-uPA</text>
</svg></body></html>
